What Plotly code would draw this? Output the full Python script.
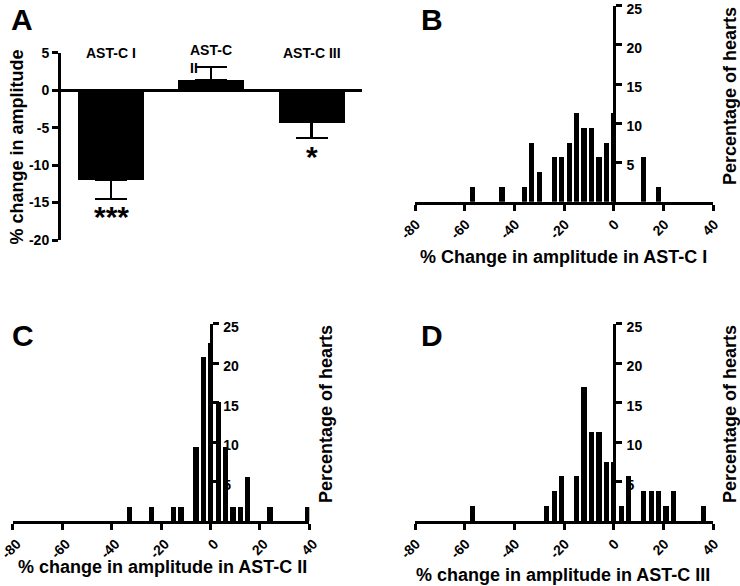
import plotly.graph_objects as go

# ---------------- data ----------------
A_categories = ["AST-C I", "AST-C II", "AST-C III"]
A_labels = ["AST-C I", "AST-C<br>II", "AST-C III"]
A_means = [-12.0, 1.4, -4.3]
A_err_up = [0, 1.7, 0]
A_err_down = [2.5, 0, 2.1]
A_sig = ["***", "", "*"]

B_bins = [-57, -45, -36, -33, -30, -24, -21, -18, -15, -12, -9, -6, -3, 0, 12, 18]
B_pct = [1.9, 1.9, 1.9, 7.5, 3.8, 5.7, 5.7, 7.5, 11.3, 9.4, 9.4, 5.7, 7.5, 11.3, 5.7, 1.9]

C_bins = [-33, -24, -15, -12, -6, -3, 0, 3, 6, 9, 12, 15, 24, 39]
C_pct = [1.9, 1.9, 1.9, 1.9, 9.4, 20.8, 22.6, 15.1, 9.4, 1.9, 1.9, 5.7, 1.9, 1.9]

D_bins = [-57, -27, -24, -21, -15, -12, -9, -6, -3, 0, 3, 6, 12, 15, 18, 21, 24, 36]
D_pct = [1.9, 1.9, 3.8, 5.7, 5.7, 17.0, 11.3, 11.3, 7.5, 7.5, 1.9, 5.7, 3.8, 3.8, 3.8, 1.9, 3.8, 1.9]

hist_xticks = [-80, -60, -40, -20, 0, 20, 40]
hist_xticktext = ["-80", "-60", "-40", "-20", "0", "20", "40"]
hist_yticks = [5, 10, 15, 20, 25]
A_yticks = [5, 0, -5, -10, -15, -20]
A_yticktext = ["5", "0", "-5", "-10", "-15", "-20"]

W, H = 740, 586
FONT = "Liberation Sans, Arial, sans-serif"


def fx(px):
    return px / W


def fy(py):
    return 1 - py / H


fig = go.Figure()

# Panel A
fig.add_trace(go.Bar(
    x=A_categories, y=A_means, width=0.66,
    marker=dict(color="black", line=dict(width=0)),
    error_y=dict(type="data", symmetric=False, array=A_err_up, arrayminus=A_err_down,
                 color="black", thickness=2.2, width=16),
    xaxis="x", yaxis="y", showlegend=False, hoverinfo="skip"))

# Histograms
for bins, pct, xa, ya in [(B_bins, B_pct, "x2", "y2"), (C_bins, C_pct, "x3", "y3"), (D_bins, D_pct, "x4", "y4")]:
    fig.add_trace(go.Bar(x=bins, y=pct, width=2.1, marker=dict(color="black", line=dict(width=0)),
                         xaxis=xa, yaxis=ya, showlegend=False, hoverinfo="skip"))

tickfont = dict(family=FONT, size=14, color="black", weight="bold")

layout = dict(
    width=W, height=H, margin=dict(l=0, r=0, t=0, b=0, autoexpand=False),
    paper_bgcolor="white", plot_bgcolor="white",
    bargap=0,
    font=dict(family=FONT, color="black"),
    xaxis=dict(domain=[fx(61), fx(361.7)], range=[-0.5, 2.5], anchor="y",
               showline=False, showticklabels=False, ticks="", showgrid=False, zeroline=False),
    yaxis=dict(domain=[fy(240), fy(52.7)], range=[-20, 5], anchor="x",
               showline=True, linewidth=3, linecolor="black", ticks="outside", ticklen=6,
               tickwidth=3, tickcolor="black", tickvals=A_yticks, ticktext=A_yticktext,
               tickfont=tickfont, ticklabeloverflow="allow",
               showgrid=False, zeroline=True, zerolinewidth=3, zerolinecolor="black"),
)

hx_dom_right = [fx(415), fx(713.3)]
hx_dom_left = [fx(12.7), fx(309.3)]
panels = [
    ("2", hx_dom_right, [fy(201.7), fy(5.7)], 613.7, 1),
    ("3", hx_dom_left, [fy(521.2), fy(323.6)], 210.5, 4),
    ("4", hx_dom_right, [fy(521.3), fy(323.8)], 613.8, 1),
]
for n, xd, yd, ypos, xshift in panels:
    layout["xaxis" + n] = dict(domain=xd, range=[-80, 40], anchor="y" + n,
                               showline=True, linewidth=3, linecolor="black",
                               ticks="outside", ticklen=6, tickwidth=3, tickcolor="black",
                               tickvals=hist_xticks, ticktext=hist_xticktext,
                               tickangle=-45, tickfont=tickfont, ticklabelshift=xshift,
                               ticklabeloverflow="allow",
                               showgrid=False, zeroline=False)
    layout["yaxis" + n] = dict(domain=yd, range=[0, 25], anchor="free", position=fx(ypos),
                               side="right", showline=True, linewidth=3, linecolor="black",
                               ticks="outside", ticklen=6, tickwidth=3, tickcolor="black",
                               tickvals=hist_yticks, tickfont=tickfont,
                               ticklabeloverflow="allow", ticklabelshift=3,
                               ticklabelstandoff=2,
                               showgrid=False, zeroline=False)

fig.update_layout(**layout)

ann = []


def txt(text, x, y, size, angle=0, **kw):
    ann.append(dict(text=text, x=fx(x), y=fy(y), xref="paper", yref="paper",
                    showarrow=False, textangle=angle,
                    font=dict(family=FONT, size=size, color="black", weight="bold"),
                    xanchor="center", yanchor="middle", **kw))


# panel letters
txt("A", 22, 19, 30)
txt("B", 432, 19, 30)
txt("C", 23, 335, 30)
txt("D", 432, 335, 30)

# axis titles
txt("% change in amplitude", 16, 147.5, 18, angle=-90)
txt("% Change in amplitude in AST-C I", 563.5, 257, 18)
txt("% change in amplitude in AST-C II", 162.5, 567, 18)
txt("% change in amplitude in AST-C III", 563, 575, 18)
txt("Percentage of hearts", 730, 96, 18, angle=-90)
txt("Percentage of hearts", 326, 414, 18, angle=-90)
txt("Percentage of hearts", 730, 414, 18, angle=-90)

# category labels and significance for panel A
label_y = [4.9, 4.1, 4.9]
for cat, lab, ly in zip(A_categories, A_labels, label_y):
    ann.append(dict(text=lab, x=cat, y=ly, xref="x", yref="y", showarrow=False, align="left",
                    font=dict(family=FONT, size=14, color="black", weight="bold"),
                    xanchor="center", yanchor="middle"))
for cat, m, dn, s in zip(A_categories, A_means, A_err_down, A_sig):
    if s:
        ann.append(dict(text=s, x=cat, y=m - dn - 2.4, xref="x", yref="y", showarrow=False,
                        font=dict(family=FONT, size=30, color="black", weight="bold"),
                        xanchor="center", yanchor="middle"))

fig.update_layout(annotations=ann)
fig.write_html("out.html", config={"displayModeBar": False},
               post_script="document.body.style.margin='0px';")
